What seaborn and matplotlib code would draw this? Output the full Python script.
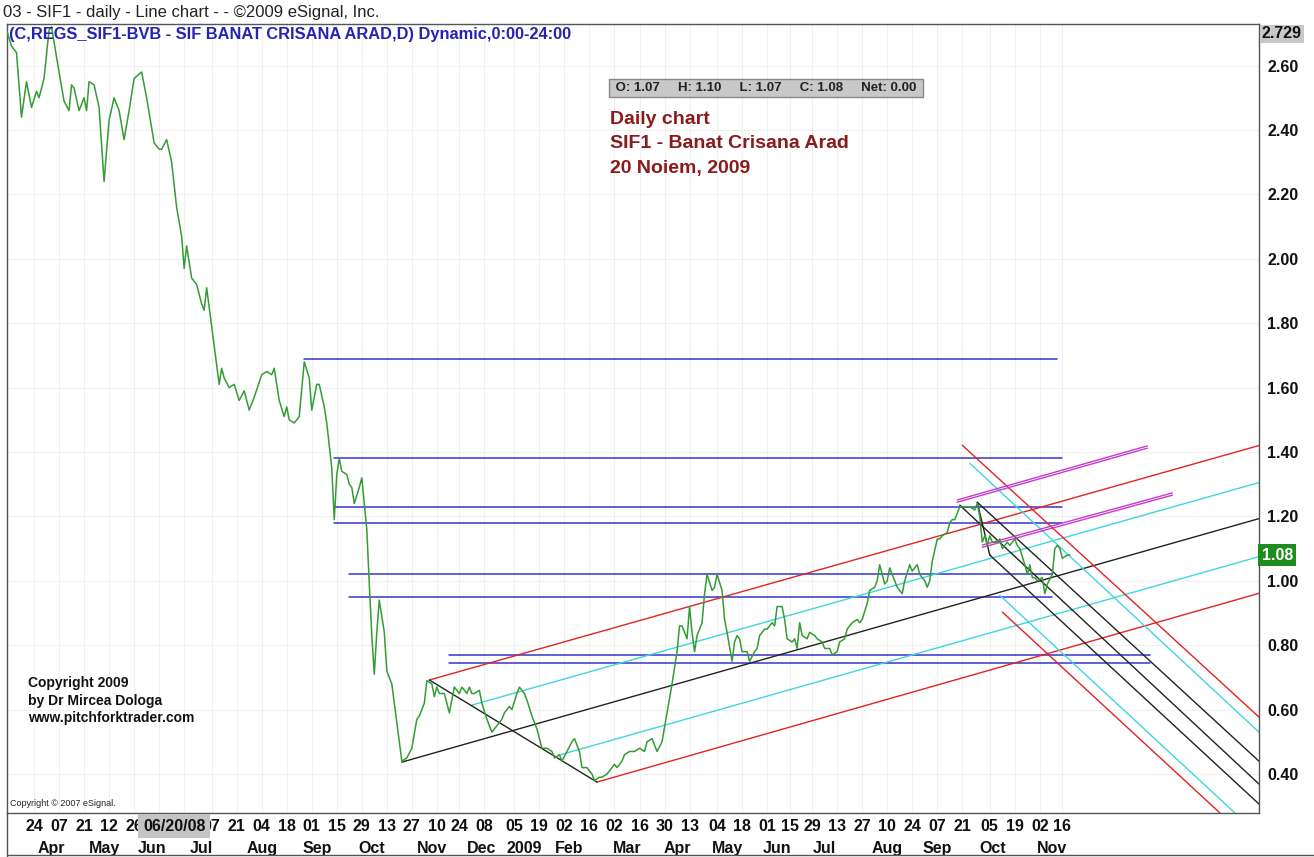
"""
SIF1 daily line chart with pitchfork lines (eSignal style)
"""
import numpy as np
import pandas as pd
import matplotlib
matplotlib.use('Agg')
import matplotlib.pyplot as plt
import matplotlib.transforms as mtransforms
from matplotlib.lines import Line2D
import seaborn as sns

# bar = trading session counted from 24 Mar 2008
bars = [-11, -9, -7, -5, -3, -1, 1, 2, 4, 6, 7, 10, 12, 14, 15, 16, 18, 20, 21, 22,
        24, 26, 28, 30, 32, 34, 36, 38, 40, 43, 45, 48, 50, 51, 53, 55, 57, 59, 60, 61,
        63, 65, 67, 68, 69, 71, 74, 75, 76, 78, 80, 82, 84, 86, 88, 91, 93, 95, 96, 98,
        100, 101, 102, 104, 106, 108, 110, 111, 113, 114, 116, 117, 119, 120, 121, 122, 123, 125, 126, 127,
        128, 130, 131, 133, 134, 135, 136, 137, 138, 140, 141, 143, 145, 147, 149, 151, 153, 154, 156, 157,
        159, 160, 161, 162, 164, 166, 167, 168, 170, 171, 173, 174, 175, 176, 178, 179, 181, 183, 185, 187,
        188, 190, 191, 193, 194, 196, 197, 199, 201, 203, 205, 207, 208, 210, 211, 213, 215, 216, 218, 219,
        221, 223, 224, 226, 227, 229, 231, 232, 233, 235, 236, 238, 240, 242, 244, 245, 247, 249, 251, 253,
        255, 257, 258, 259, 261, 262, 263, 264, 265, 267, 268, 269, 271, 272, 273, 275, 276, 277, 279, 280,
        281, 282, 283, 285, 286, 288, 289, 290, 292, 293, 295, 296, 297, 299, 300, 301, 303, 304, 305, 306,
        307, 309, 310, 312, 313, 315, 316, 318, 319, 321, 322, 324, 325, 327, 329, 330, 331, 333, 334, 336,
        337, 338, 340, 341, 342, 344, 345, 347, 348, 350, 351, 353, 354, 356, 357, 358, 359, 361, 362, 363,
        365, 366, 367, 368, 369, 370, 371, 373, 374, 376, 377, 378, 379, 380, 381, 382, 383, 385, 386, 387,
        389, 390, 392, 393, 394, 396, 397, 398, 399, 400, 401, 403, 404, 405, 407, 408, 409, 410, 411, 413,
        414]
close = [2.71, 2.66, 2.64, 2.44, 2.55, 2.47, 2.52, 2.50, 2.56, 2.71, 2.72, 2.58, 2.49, 2.46, 2.54, 2.53, 2.46, 2.50, 2.46, 2.55,
         2.54, 2.47, 2.24, 2.43, 2.50, 2.46, 2.37, 2.46, 2.56, 2.58, 2.50, 2.36, 2.34, 2.34, 2.37, 2.30, 2.16, 2.07, 1.97, 2.04,
         1.94, 1.92, 1.86, 1.84, 1.91, 1.79, 1.61, 1.66, 1.63, 1.60, 1.61, 1.56, 1.59, 1.53, 1.57, 1.64, 1.65, 1.64, 1.66, 1.56,
         1.51, 1.54, 1.50, 1.49, 1.51, 1.68, 1.63, 1.53, 1.61, 1.61, 1.54, 1.49, 1.35, 1.19, 1.33, 1.38, 1.34, 1.33, 1.30, 1.29,
         1.24, 1.29, 1.32, 1.16, 0.99, 0.83, 0.71, 0.84, 0.94, 0.84, 0.72, 0.68, 0.56, 0.44, 0.45, 0.48, 0.57, 0.58, 0.62, 0.69,
         0.68, 0.64, 0.67, 0.65, 0.65, 0.59, 0.63, 0.67, 0.65, 0.67, 0.65, 0.67, 0.65, 0.65, 0.66, 0.62, 0.57, 0.53, 0.55, 0.57,
         0.59, 0.61, 0.60, 0.65, 0.67, 0.65, 0.63, 0.58, 0.54, 0.48, 0.48, 0.47, 0.45, 0.46, 0.44, 0.47, 0.50, 0.51, 0.47, 0.42,
         0.42, 0.40, 0.38, 0.39, 0.39, 0.40, 0.42, 0.43, 0.42, 0.44, 0.46, 0.47, 0.47, 0.48, 0.47, 0.50, 0.51, 0.47, 0.50, 0.59,
         0.68, 0.78, 0.86, 0.86, 0.82, 0.92, 0.84, 0.78, 0.83, 0.87, 0.96, 1.02, 0.97, 0.98, 1.02, 0.97, 0.88, 0.84, 0.75, 0.81,
         0.83, 0.82, 0.78, 0.78, 0.75, 0.78, 0.79, 0.83, 0.85, 0.85, 0.87, 0.86, 0.92, 0.92, 0.88, 0.82, 0.81, 0.82, 0.79, 0.87,
         0.83, 0.82, 0.84, 0.83, 0.82, 0.81, 0.79, 0.79, 0.77, 0.78, 0.81, 0.82, 0.85, 0.87, 0.88, 0.87, 0.88, 0.93, 0.97, 0.98,
         1.00, 1.05, 0.99, 1.00, 1.04, 1.00, 0.98, 0.96, 1.00, 1.05, 1.03, 1.05, 1.02, 1.00, 0.98, 1.00, 1.06, 1.13, 1.13, 1.14,
         1.15, 1.18, 1.19, 1.19, 1.21, 1.23, 1.23, 1.23, 1.23, 1.22, 1.24, 1.20, 1.12, 1.14, 1.11, 1.14, 1.12, 1.12, 1.13, 1.10,
         1.12, 1.11, 1.13, 1.11, 1.10, 1.05, 1.02, 1.05, 1.01, 1.01, 1.00, 1.01, 0.96, 0.99, 1.02, 1.10, 1.11, 1.10, 1.07, 1.08,
         1.08]

# horizontal levels: price, first bar, last bar
level_price = [1.69, 1.38, 1.23, 1.18, 1.02, 0.95, 0.77, 0.745]
level_start = [108, 120, 120, 120, 126, 126, 166, 166]
level_end = [409, 411, 411, 411, 407, 407, 446, 446]

# pitchfork lines: bar0, price0, bar1, price1, colour
fork_b0 = [158, 175, 147, 210, 225, 158,
           371, 374, 377, 370, 382, 386, 387, 377]
fork_p0 = [0.692, 0.614, 0.437, 0.459, 0.375, 0.692,
           1.421, 1.365, 1.244, 1.235, 1.080, 0.955, 0.903, 1.244]
fork_b1 = [490, 490, 490, 490, 490, 225,
           490, 490, 490, 490, 490, 480, 474, 382]
fork_p1 = [1.421, 1.306, 1.194, 1.076, 0.962, 0.375,
           0.574, 0.527, 0.437, 0.366, 0.304, 0.279, 0.279, 1.080]
fork_col = ['#e02424', '#3fd6de', '#222222', '#3fd6de', '#e02424', '#222222',
            '#e02424', '#3fd6de', '#222222', '#222222', '#222222', '#3fd6de', '#e02424', '#222222']

# magenta double lines
mag_b0 = [369, 379]
mag_p0 = [1.244, 1.104]
mag_b1 = [445, 455]
mag_p1 = [1.412, 1.266]

# time axis
day_pos = [0, 10, 20, 30, 40, 50, 60, 71, 81, 91, 101, 111, 121, 131, 141, 151, 161, 170, 180, 192,
           202, 212, 222, 232, 242, 252, 262, 273, 283, 293, 302, 311, 321, 331, 341, 351, 361, 371, 382, 392,
           402, 411]
day_lab = ['24', '07', '21', '12', '26', '', '', '07', '21', '04', '18', '01', '15', '29', '13', '27', '10', '24', '08', '05',
           '19', '02', '16', '02', '16', '30', '13', '04', '18', '01', '15', '29', '13', '27', '10', '24', '07', '21', '05', '19',
           '02', '16']
month_pos = [7, 28, 47, 67, 91, 113, 135, 159, 179, 196, 214, 237, 257, 277, 297, 316, 341, 361, 383, 407]
month_lab = ['Apr', 'May', 'Jun', 'Jul', 'Aug', 'Sep', 'Oct', 'Nov', 'Dec', '2009', 'Feb', 'Mar',
             'Apr', 'May', 'Jun', 'Jul', 'Aug', 'Sep', 'Oct', 'Nov']
price_ticks = [0.40, 0.60, 0.80, 1.00, 1.20, 1.40, 1.60, 1.80, 2.00, 2.20, 2.40, 2.60]

ohlc_names = ['O', 'H', 'L', 'C', 'Net']
ohlc_values = [1.07, 1.10, 1.07, 1.08, 0.00]
last_close = 1.08
scale_top = 2.729

sns.set_theme(style='white')
plt.rcParams['font.family'] = ['Liberation Sans', 'DejaVu Sans']

W, H = 1314, 857
fig = plt.figure(figsize=(W / 100, H / 100), dpi=100)
fig.patch.set_facecolor('white')
ax = fig.add_axes([7 / W, 1 - 813 / H, (1259 - 7) / W, (813 - 24) / H])

df = pd.DataFrame({'bar': bars, 'close': close})

# levels and forks under the price line
for p, b0, b1 in zip(level_price, level_start, level_end):
    ax.plot([b0, b1], [p, p], color='#3535c8', lw=1.1, zorder=2)
for b0, p0, b1, p1, c in zip(fork_b0, fork_p0, fork_b1, fork_p1, fork_col):
    ax.plot([b0, b1], [p0, p1], color=c, lw=1.0, zorder=2)
for b0, p0, b1, p1 in zip(mag_b0, mag_p0, mag_b1, mag_p1):
    for off in (0.0, 0.007):
        ax.plot([b0, b1], [p0 + off, p1 + off], color='#c63ccc', lw=1.0, zorder=2)

sns.lineplot(data=df, x='bar', y='close', ax=ax, color='#349c34', lw=1.1, zorder=3)

ax.set_xlim(-10.8, 489.6)
ax.set_ylim(0.279, scale_top)
ax.set_xlabel('')
ax.set_ylabel('')

ax.yaxis.tick_right()
ax.set_yticks(price_ticks)
ax.set_yticklabels([f'{v:.2f}' for v in price_ticks])
ax.set_xticks(day_pos)
ax.set_xticklabels(day_lab)
ax.tick_params(axis='y', length=0, pad=6, labelsize=11.5, labelcolor='#111111')
ax.tick_params(axis='x', length=0, pad=4, labelsize=11.5, labelcolor='#111111')
for lab in ax.get_xticklabels() + ax.get_yticklabels():
    lab.set_fontweight('bold')
ax.grid(True, color='#f0f0f0', lw=0.8)
for sp in ax.spines.values():
    sp.set_color('#555555')
    sp.set_linewidth(1.0)

# month row under the day numbers
trans = mtransforms.blended_transform_factory(ax.transData, ax.transAxes)
for b, m in zip(month_pos, month_lab):
    ax.text(b, -0.0444, m, transform=trans, ha='center', va='center',
            fontsize=11.5, fontweight='bold', color='#111111', clip_on=False)

# cursor date box
ax.text(56, -0.0165, '06/20/08', transform=trans, ha='center', va='center',
        fontsize=11.5, fontweight='bold', color='#111111', clip_on=False, zorder=6,
        bbox=dict(boxstyle='square,pad=0.3', facecolor='#c4c4c4', edgecolor='none'))

# frame round the time scale
fig.add_artist(Line2D([7 / W, 7 / W], [0, 1 - 813 / H], color='#555555', lw=1.0))
fig.add_artist(Line2D([7 / W, 1], [2 / H, 2 / H], color='#555555', lw=1.0))

# right scale boxes
ytrans = mtransforms.blended_transform_factory(ax.transAxes, ax.transData)
ax.text(1.002, last_close, f'{last_close:.2f}', transform=ytrans, ha='left', va='center',
        fontsize=11.5, fontweight='bold', color='white', clip_on=False,
        bbox=dict(boxstyle='square,pad=0.2', facecolor='#1e8c1e', edgecolor='none'))
fig.text(1262 / W, 1 - 34 / H, f'{scale_top:.3f}', ha='left', va='center',
         fontsize=11.5, fontweight='bold', color='#111111',
         bbox=dict(boxstyle='square,pad=0.12', facecolor='#c8c8c8', edgecolor='none'))

# headers
fig.text(3 / W, 1 - 12 / H, '03 - SIF1 - daily - Line chart - - \u00a92009 eSignal, Inc.',
         ha='left', va='center', fontsize=12, color='#222222')
fig.text(9 / W, 1 - 34 / H, '(C,REGS_SIF1-BVB - SIF BANAT CRISANA ARAD,D) Dynamic,0:00-24:00',
         ha='left', va='center', fontsize=11.8, fontweight='bold', color='#2323b4')

# OHLC strip
ohlc_text = ' ' + '     '.join(f'{n}: {v:.2f}' for n, v in zip(ohlc_names, ohlc_values)) + ' '
fig.text(766 / W, 1 - 88 / H, ohlc_text, ha='center', va='center', fontsize=9.5,
         fontweight='bold', color='#222222',
         bbox=dict(boxstyle='square,pad=0.25', facecolor='#c8c8c8', edgecolor='#888888'))

# title block
for i, line in enumerate(['Daily chart', 'SIF1 - Banat Crisana Arad', '20 Noiem, 2009']):
    fig.text(610 / W, 1 - (119 + 25 * i) / H, line, ha='left', va='center',
             fontsize=14, fontweight='bold', color='#8b1a1a')

# copyright notes
for i, line in enumerate(['Copyright 2009', 'by Dr Mircea Dologa', 'www.pitchforktrader.com']):
    fig.text(28 / W, 1 - (683 + 17.5 * i) / H, line, ha='left', va='center',
             fontsize=10, fontweight='bold', color='#111111')
fig.text(10 / W, 1 - 804 / H, 'Copyright \u00a9 2007 eSignal.', ha='left', va='center',
         fontsize=6.5, color='#222222')

fig.savefig('out.png', dpi=100)
plt.close(fig)
